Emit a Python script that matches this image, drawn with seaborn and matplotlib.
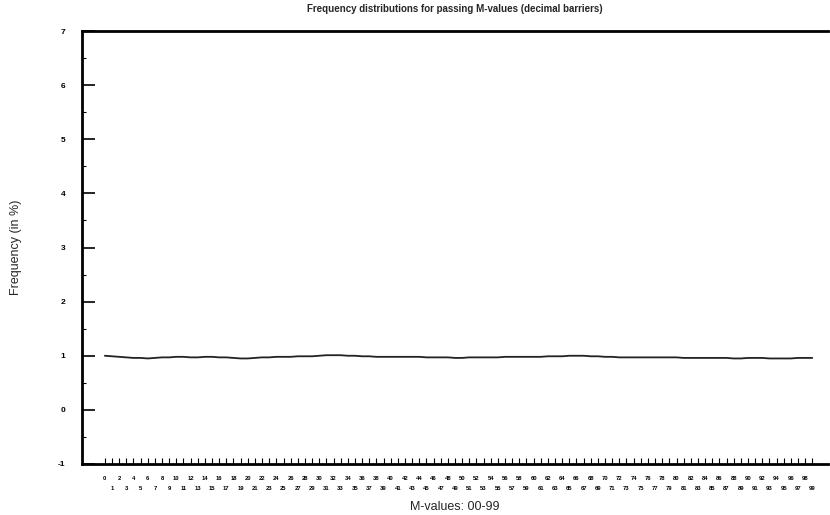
import numpy as np
import pandas as pd
import matplotlib
matplotlib.use("Agg")
import matplotlib.pyplot as plt
import seaborn as sns

# Passing M-values 00-99 and their observed frequency (in %)
m_values = list(range(100))
frequency = [
    1.00, 0.99, 0.98, 0.97, 0.96, 0.96, 0.95, 0.96, 0.97, 0.97,
    0.98, 0.98, 0.97, 0.97, 0.98, 0.98, 0.97, 0.97, 0.96, 0.95,
    0.95, 0.96, 0.97, 0.97, 0.98, 0.98, 0.98, 0.99, 0.99, 0.99,
    1.00, 1.01, 1.01, 1.01, 1.00, 1.00, 0.99, 0.99, 0.98, 0.98,
    0.98, 0.98, 0.98, 0.98, 0.98, 0.97, 0.97, 0.97, 0.97, 0.96,
    0.96, 0.97, 0.97, 0.97, 0.97, 0.97, 0.98, 0.98, 0.98, 0.98,
    0.98, 0.98, 0.99, 0.99, 0.99, 1.00, 1.00, 1.00, 0.99, 0.99,
    0.98, 0.98, 0.97, 0.97, 0.97, 0.97, 0.97, 0.97, 0.97, 0.97,
    0.97, 0.96, 0.96, 0.96, 0.96, 0.96, 0.96, 0.96, 0.95, 0.95,
    0.96, 0.96, 0.96, 0.95, 0.95, 0.95, 0.95, 0.96, 0.96, 0.96,
]
x_tick_labels = [str(v) if v % 2 == 0 else "\n" + str(v) for v in m_values]
y_ticks = [-1, 0, 1, 2, 3, 4, 5, 6, 7]

df = pd.DataFrame({"m": m_values, "freq": frequency})

sns.set_style("white", {"xtick.bottom": True, "ytick.left": True})
plt.rcParams["font.family"] = ["Liberation Sans", "DejaVu Sans"]

fig = plt.figure(figsize=(8.3, 5.15), dpi=100)
ax = fig.add_axes([82 / 830, 51 / 515, 746 / 830, 433 / 515])

sns.lineplot(data=df, x="m", y="freq", ax=ax, color="#222222", linewidth=1.3)

ax.set_xlim(-3.2, 101.2)
ax.set_ylim(-1, 7)
ax.set_yticks(y_ticks)
ax.set_yticklabels([str(t) for t in y_ticks], fontsize=6, fontweight="bold")
ax.set_yticks(np.arange(-1, 7.01, 0.5), minor=True)
ax.tick_params(axis="y", which="major", direction="in", length=9, width=1.2,
               pad=12, left=True, colors="black")
ax.tick_params(axis="y", which="minor", direction="in", length=3, width=0.8,
               left=True, color="black")

ax.set_xticks(m_values)
ax.set_xticklabels(x_tick_labels, fontsize=4.2, fontweight="bold", linespacing=2.2)
ax.tick_params(axis="x", which="major", direction="in", length=4, width=0.8,
               pad=9, bottom=True, colors="black")

for side in ("left", "bottom", "top"):
    ax.spines[side].set_linewidth(2)
    ax.spines[side].set_color("black")
ax.spines["right"].set_visible(False)

ax.set_xlabel("M-values: 00-99", fontsize=9, labelpad=7)
ax.set_ylabel("Frequency (in %)", fontsize=9, labelpad=26)
ax.set_title("Frequency distributions for passing M-values (decimal barriers)",
             fontsize=7, pad=14, fontweight="bold")

fig.savefig("out.png", dpi=100)
